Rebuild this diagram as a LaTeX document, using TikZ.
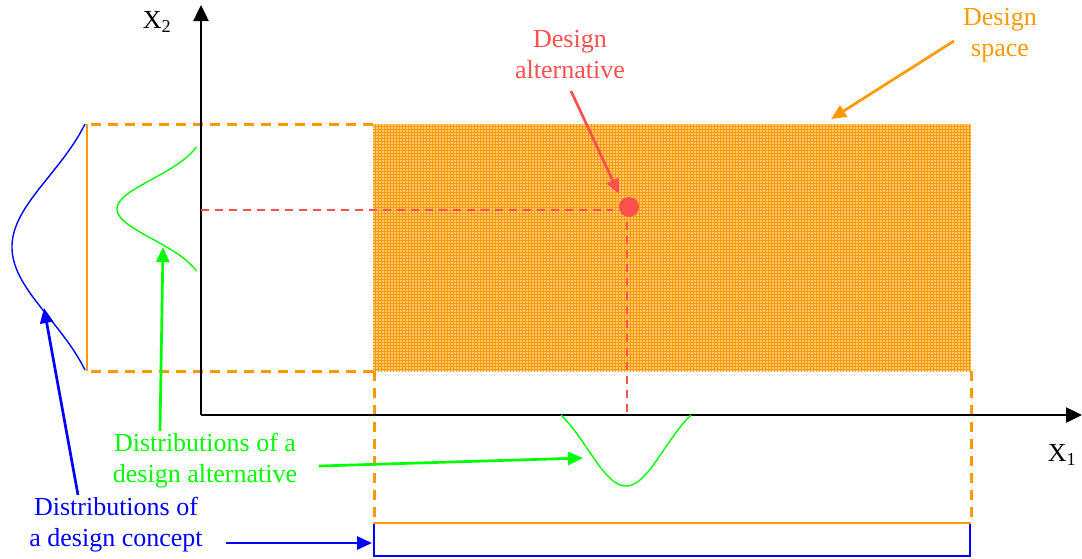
\documentclass[tikz,border=0pt]{standalone}
\usepackage{fontspec}
\setmainfont{Liberation Serif}
\usetikzlibrary{arrows.meta,patterns}
\definecolor{dsorange}{RGB}{255,153,0}
\definecolor{dsfill}{RGB}{255,200,115}
\definecolor{dsred}{RGB}{255,80,80}
\definecolor{dsgreen}{RGB}{0,255,0}
\definecolor{dsblue}{RGB}{0,0,255}
\tikzset{
  lbl/.style={inner sep=0pt, align=center, font=\fontsize{26}{31}\selectfont},
  axis/.style={line width=2.5pt, -{Triangle[length=16pt,width=15pt]}},
  pointer/.style={line width=2.7pt, -{Triangle[length=15pt,width=13pt]}},
  odash/.style={dsorange, line width=3pt, dash pattern=on 10pt off 7pt},
  rdash/.style={dsred, line width=2.6pt, dash pattern=on 8pt off 6pt},
  dist/.style={line width=1.4pt},
}
\begin{document}
\begin{tikzpicture}[x=1pt,y=-1pt]
\useasboundingbox (0,0) rectangle (1082,558);

% design space
\fill[dsfill] (373,124) rectangle (971,371);
\fill[pattern=grid, pattern color=dsorange] (373,124) rectangle (971,371);

% projections of the design space onto the axes
\draw[odash] (373,124) -- (87,124);
\draw[odash] (373,371) -- (87,371);
\draw[odash] (374,371) -- (374,523);
\draw[odash] (971,371) -- (971,523);
\draw[dsorange, line width=2.6pt] (87,124) -- (87,371);
\draw[dsblue, line width=2.6pt] (374,523) |- (970,556) -- (970,523);
\draw[dsorange, line width=2.6pt] (373,523) -- (971,523);

% axes
\coordinate (O) at (201,415);
\coordinate (xend) at (1082,415);
\coordinate (yend) at (201,5);
\draw[axis] (O) -- (xend);
\draw[axis] (O) -- (yend);
\node[lbl] (x1) at (1062,455) {X\textsubscript{1}};
\node[lbl] (x2) at (157,22) {X\textsubscript{2}};

% design alternative
\node[circle, fill=dsred, minimum size=20pt, inner sep=0pt] (alt) at (629,207) {};
\draw[rdash] (201,210) -- (613,210);
\draw[rdash] (627,222) -- (627,415);

% distributions of the concept and of the alternative
\draw[dsblue, dist] plot[domain=-123:123, samples=120, smooth]
  ({85 - 73*(exp(-(\x*\x)/(2*70*70)) - 0.2135)/(1-0.2135)}, {247+\x});
\draw[dsgreen, dist] plot[domain=-62:62, samples=80, smooth]
  ({207 - 90*exp(-(\x*\x)/(2*30*30))}, {209+\x});
\draw[dsgreen, dist] plot[domain=-65:65, samples=80, smooth]
  ({626+\x}, {415 + 71*(exp(-(\x*\x)/(2*38*38)) - 0.231)/(1-0.231)});

% labels
\node[lbl, text=dsred] (altlbl) at (570,55) {Design\\alternative};
\node[lbl, text=dsorange] (spacelbl) at (1000,35) {Design\\space};
\node[lbl, text=dsgreen] (galbl) at (205,461) {Distributions of a\\design alternative};
\node[lbl, text=dsblue] (bclbl) at (116,525) {Distributions of\\a design concept};

% pointers
\coordinate (altfrom) at (571,91);
\coordinate (altto) at (619,194);
\draw[pointer, dsred] (altfrom) -- (altto);
\coordinate (spfrom) at (954,41);
\coordinate (spto) at (831,119);
\draw[pointer, dsorange] (spfrom) -- (spto);
\coordinate (gafrom) at (319,466);
\coordinate (gato) at (583,458);
\draw[pointer, dsgreen] (gafrom) -- (gato);
\coordinate (gbfrom) at (160,431);
\coordinate (gbto) at (163,247);
\draw[pointer, dsgreen] (gbfrom) -- (gbto);
\coordinate (bafrom) at (78,495);
\coordinate (bato) at (44,308);
\draw[pointer, dsblue] (bafrom) -- (bato);
\coordinate (bbfrom) at (226,543);
\coordinate (bbto) at (372,543);
\draw[pointer, dsblue] (bbfrom) -- (bbto);
\end{tikzpicture}
\end{document}
